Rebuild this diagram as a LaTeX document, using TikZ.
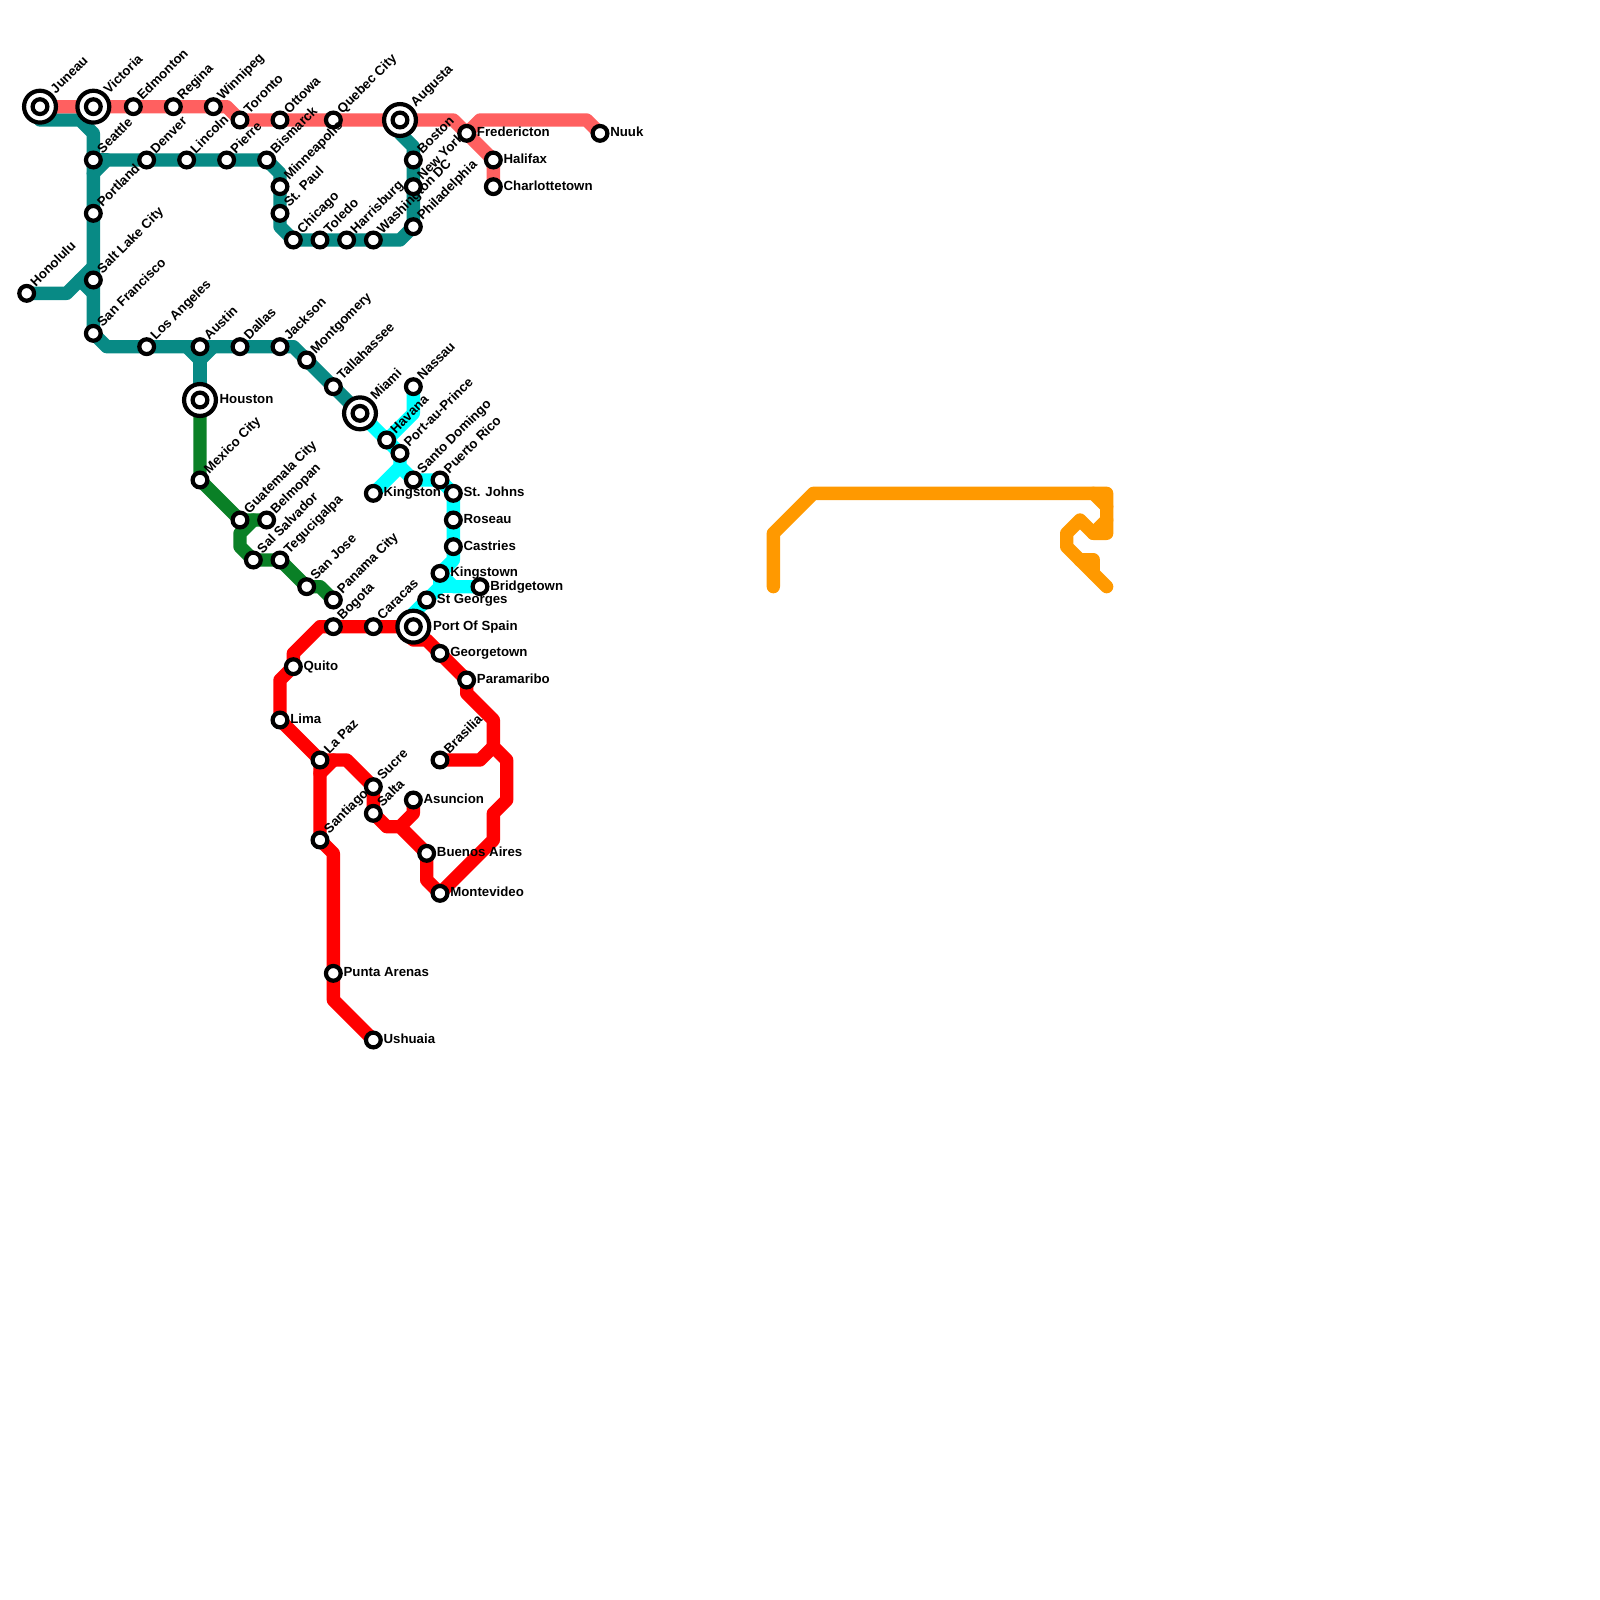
\documentclass[tikz,border=0pt]{standalone}
\usepackage{fontspec}
\setmainfont{Liberation Sans}
\usetikzlibrary{backgrounds}
\definecolor{cpink}{HTML}{FF6060}
\definecolor{cteal}{HTML}{088A85}
\definecolor{cgreen}{HTML}{0A8026}
\definecolor{ccyan}{HTML}{00FFFF}
\definecolor{cred}{HTML}{FF0000}
\definecolor{corange}{HTML}{FF9900}
\tikzset{
  every picture/.style={font=\fontsize{11.3pt}{12pt}\selectfont\bfseries},
  metro/.style={draw=#1, line width=0.4cm, line join=round, line cap=round},
  station/.style={circle, draw=black, fill=white, line width=3.6pt, minimum size=12.6pt, inner sep=0pt},
  hub/.style={station, minimum size=27.2pt},
  tilt/.style={rotate=45, anchor=base west, inner sep=0pt, xshift=9pt, yshift=-2pt},
  flat/.style={anchor=base west, inner sep=0pt, xshift=8.6pt, yshift=-3pt},
  hubflat/.style={flat, xshift=8pt},
  hubtilt/.style={tilt, xshift=8pt},
}
\begin{document}
\begin{tikzpicture}[x=0.4cm, y=-0.4cm]
  \useasboundingbox (0,0) rectangle (120,120);
  % big stops
  \foreach \n/\x/\y/\t in {juneau/3/8/Juneau, victoria/7/8/Victoria, augusta/30/9/Augusta, miami/27/31/Miami} {
    \node[hub] (\n) at (\x,\y) {};
    \node[station] (\n-in) at (\n) {};
    \node[hubtilt] (\n-t) at (\n) {\t};
  }
  \foreach \n/\x/\y/\t in {houston/15/30/Houston, spain/31/47/Port Of Spain} {
    \node[hub] (\n) at (\x,\y) {};
    \node[station] (\n-in) at (\n) {};
    \node[hubflat] (\n-t) at (\n) {\t};
  }
  % stops with slanted names
  \foreach \n/\x/\y/\t in {edmonton/10/8/Edmonton, regina/13/8/Regina, winnipeg/16/8/Winnipeg, toronto/18/9/Toronto,
    ottowa/21/9/Ottowa, quebec/25/9/Quebec City, seattle/7/12/Seattle, denver/11/12/Denver, lincoln/14/12/Lincoln,
    pierre/17/12/Pierre, bismarck/20/12/Bismarck, minneapolis/21/14/Minneapolis, stpaul/21/16/St. Paul,
    chicago/22/18/Chicago, toledo/24/18/Toledo, harrisburg/26/18/Harrisburg, washington/28/18/Washington DC,
    philadelphia/31/17/Philadelphia, newyork/31/14/New York, boston/31/12/Boston, portland/7/16/Portland,
    saltlake/7/21/Salt Lake City, honolulu/2/22/Honolulu, sanfrancisco/7/25/San Francisco, losangeles/11/26/Los Angeles,
    austin/15/26/Austin, dallas/18/26/Dallas, jackson/21/26/Jackson, montgomery/23/27/Montgomery,
    tallahassee/25/29/Tallahassee, mexico/15/36/Mexico City, guatemala/18/39/Guatemala City, belmopan/20/39/Belmopan,
    salvador/19/42/Sal Salvador, tegucigalpa/21/42/Tegucigalpa, sanjose/23/44/San Jose, panama/25/45/Panama City,
    bogota/25/47/Bogota, caracas/28/47/Caracas, havana/29/33/Havana, prince/30/34/Port-au-Prince, nassau/31/29/Nassau,
    domingo/31/36/Santo Domingo, puertorico/33/36/Puerto Rico, lapaz/24/57/La Paz, sucre/28/59/Sucre, salta/28/61/Salta,
    santiago/24/63/Santiago, brasilia/33/57/Brasilia} {
    \node[station] (\n) at (\x,\y) {};
    \node[tilt] (\n-t) at (\n) {\t};
  }
  % stops with flat names
  \foreach \n/\x/\y/\t in {fredericton/35/10/Fredericton, halifax/37/12/Halifax, charlottetown/37/14/Charlottetown,
    nuuk/45/10/Nuuk, kingston/28/37/Kingston, stjohns/34/37/St. Johns, roseau/34/39/Roseau, castries/34/41/Castries,
    kingstown/33/43/Kingstown, bridgetown/36/44/Bridgetown, stgeorges/32/45/St Georges, georgetown/33/49/Georgetown,
    paramaribo/35/51/Paramaribo, quito/22/50/Quito, lima/21/54/Lima, asuncion/31/60/Asuncion,
    buenos/32/64/Buenos Aires, montevideo/33/67/Montevideo, punta/25/73/Punta Arenas, ushuaia/28/78/Ushuaia} {
    \node[station] (\n) at (\x,\y) {};
    \node[flat] (\n-t) at (\n) {\t};
  }
  % free ends of the side branches
  \coordinate (tealhigh) at (7,13);
  \coordinate (tealone) at (8,12);
  \coordinate (tealtwo) at (6,21);
  \coordinate (tealthree) at (7,22);
  \coordinate (tealfour) at (7,20);
  \coordinate (tealfive) at (14,26);
  \coordinate (tealsix) at (16,26);
  \coordinate (tealseven) at (15,27);
  \coordinate (greenone) at (19,39);
  \coordinate (cyanone) at (30,35);
  \coordinate (cyantwo) at (33,44);
  \coordinate (pinkone) at (34,9);
  \coordinate (redone) at (37,56);
  \coordinate (redtwo) at (24,58);
  \coordinate (redthree) at (25,57);
  \coordinate (redfour) at (30,62);
  \coordinate (redfive) at (30,47);
  \coordinate (orangeone) at (82,40);
  \coordinate (orangetwo) at (82,37);
  \coordinate (orangethree) at (83,38);
  \coordinate (orangefour) at (83,39);
  \coordinate (orangefive) at (81,42);
  \coordinate (orangesix) at (82,43);
  \coordinate (orangeend) at (58,44);
  \coordinate (orangestop) at (83,44);
  \begin{scope}[on background layer]
    % north west and gulf
    \draw[metro=cteal] (juneau.center) -- (3,9) -- (6,9) -- (7,10) -- (sanfrancisco.center) -- (8,26) -- (22,26) -- (miami.center);
    \draw[metro=cteal] (tealhigh) -- (tealone) -- (20,12) -- (21,13) -- (21,17) -- (22,18) -- (30,18) -- (31,17) -- (31,11) -- (30,10) -- (augusta.center);
    \draw[metro=cteal] (seattle.center) -- (tealone);
    \draw[metro=cteal] (honolulu.center) -- (5,22) -- (tealfour);
    \draw[metro=cteal] (tealtwo) -- (tealthree);
    \draw[metro=cteal] (tealfive) -- (tealseven) -- (tealsix);
    \draw[metro=cteal] (tealseven) -- (houston.center);
    % central america
    \draw[metro=cgreen] (houston.center) -- (mexico.center) -- (guatemala.center) -- (belmopan.center);
    \draw[metro=cgreen] (greenone) -- (18,40) -- (18,41) -- (salvador.center) -- (tegucigalpa.center) -- (sanjose.center) -- (24,44) -- (panama.center);
    % caribbean
    \draw[metro=ccyan] (miami.center) -- (prince.center) -- (cyanone) -- (domingo.center) -- (33,36) -- (stjohns.center) -- (34,42) -- (kingstown.center) -- (34,44) -- (bridgetown.center);
    \draw[metro=ccyan] (kingston.center) -- (cyanone);
    \draw[metro=ccyan] (nassau.center) -- (31,31) -- (havana.center);
    \draw[metro=ccyan] (kingstown.center) -- (cyantwo) -- (bridgetown.center);
    \draw[metro=ccyan] (cyantwo) -- (31,46) -- (spain.center);
    % canada
    \draw[metro=cpink] (juneau.center) -- (17,8) -- (toronto.center) -- (pinkone) -- (halifax.center) -- (charlottetown.center);
    \draw[metro=cpink] (fredericton.center) -- (36,9) -- (44,9) -- (nuuk.center);
    % south america
    \draw[metro=cred] (spain.center) -- (24,47) -- (22,49) -- (quito.center) -- (21,51) -- (lima.center) -- (lapaz.center) -- (26,57) -- (sucre.center) -- (salta.center) -- (29,62) -- (redfour) -- (buenos.center) -- (32,66) -- (montevideo.center) -- (37,63) -- (37,61) -- (38,60) -- (38,57) -- (redone) -- (37,54) -- (35,52) -- (paramaribo.center) -- (32,48) -- (31,48) -- (redfive);
    \draw[metro=cred] (brasilia.center) -- (36,57) -- (redone);
    \draw[metro=cred] (lapaz.center) -- (santiago.center) -- (25,64) -- (25,75) -- (ushuaia.center);
    \draw[metro=cred] (redtwo) -- (redthree);
    \draw[metro=cred] (asuncion.center) -- (31,61) -- (redfour);
    % orange line with no stops
    \draw[metro=corange] (orangeend) -- (58,40) -- (61,37) -- (83,37) -- (83,40) -- (orangeone) -- (81,39) -- (80,40) -- (80,41) -- (orangestop);
    \draw[metro=corange] (orangetwo) -- (orangethree);
    \draw[metro=corange] (orangefour) -- (orangeone);
    \draw[metro=corange] (orangefive) -- (82,42) -- (orangesix);
  \end{scope}
\end{tikzpicture}
\end{document}
